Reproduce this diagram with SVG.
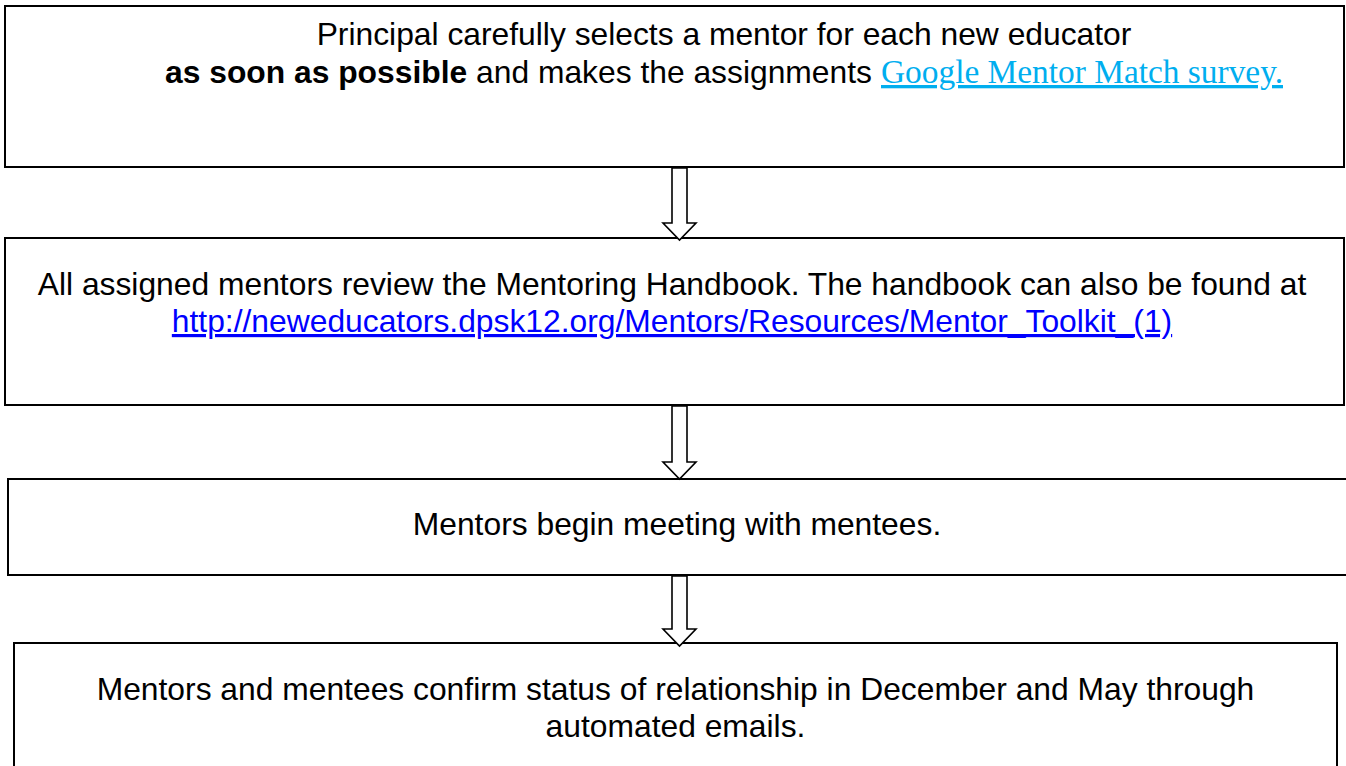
<svg xmlns="http://www.w3.org/2000/svg" width="1346" height="766" viewBox="0 0 1346 766">
<style>
.box{fill:#fff;stroke:#000;stroke-width:2}
.arrow{fill:#fff;stroke:#000;stroke-width:1.6;stroke-linejoin:miter}
.t{font-family:"Liberation Sans",Arial,sans-serif;font-size:31.8px;fill:#000}
.b{font-weight:bold}
.link1{font-family:"Liberation Serif","Times New Roman",serif;font-size:33px;fill:#00AEEF;text-decoration:underline}
.link2{fill:#0000FF;text-decoration:underline}
</style>
<rect width="1346" height="766" fill="#fff"/>
<g id="node1">
<rect class="box" x="5" y="6" width="1339" height="161"/>
<text class="t" x="724" y="45" text-anchor="middle">Principal carefully selects a mentor for each new educator</text>
<text class="t" x="165" y="83"><tspan class="b">as soon as possible</tspan> and makes the assignments </text>
<text class="link1" x="881" y="83" textLength="402" lengthAdjust="spacingAndGlyphs">Google Mentor Match survey.</text>
</g>
<g id="node2">
<rect class="box" x="5" y="238" width="1339" height="167"/>
<text class="t" x="672" y="295" text-anchor="middle">All assigned mentors review the Mentoring Handbook. The handbook can also be found at</text>
<text class="t link2" x="672" y="332" text-anchor="middle">http://neweducators.dpsk12.org/Mentors/Resources/Mentor_Toolkit_(1)</text>
</g>
<g id="node3">
<rect class="box" x="8" y="479" width="1345" height="96"/>
<text class="t" x="677" y="535" text-anchor="middle">Mentors begin meeting with mentees.</text>
</g>
<g id="node4">
<rect class="box" x="14" y="643" width="1323" height="140"/>
<text class="t" x="675.5" y="700" text-anchor="middle">Mentors and mentees confirm status of relationship in December and May through</text>
<text class="t" x="675.5" y="737" text-anchor="middle">automated emails.</text>
</g>
<g id="connectors">
<path class="arrow" d="M672,168 L687,168 L687,223 L696,223 L679.5,240 L663,223 L672,223 Z"/>
<path class="arrow" d="M672,406 L687,406 L687,462 L696,462 L679.5,479 L663,462 L672,462 Z"/>
<path class="arrow" d="M672,576 L687,576 L687,629 L696,629 L679.5,646 L663,629 L672,629 Z"/>
</g>
</svg>
